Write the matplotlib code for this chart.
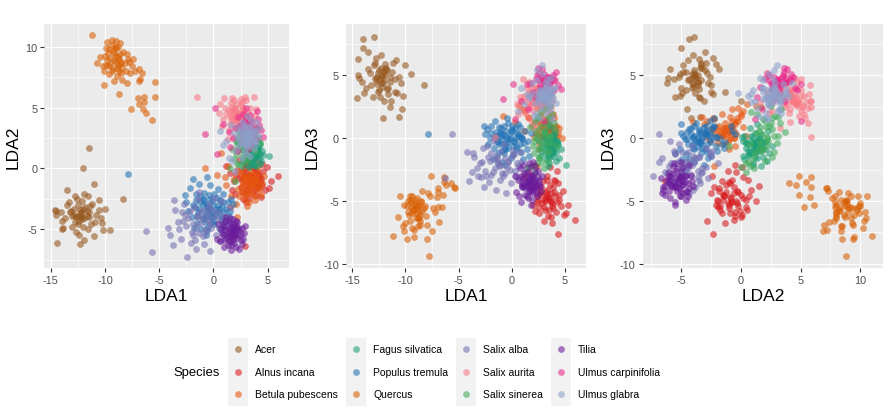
import numpy as np
import matplotlib
matplotlib.use("Agg")
import matplotlib.pyplot as plt
from matplotlib.patches import Rectangle

plt.rcParams['font.family'] = ['Liberation Sans', 'DejaVu Sans']
plt.rcParams['axes.unicode_minus'] = False

# ---- data: (LDA1, LDA2, LDA3) per species ----
acer = [(-14.0,-4.3,7.9),(-13.0,-3.9,8.1),(-14.0,-5.0,7.2),(-13.5,-3.0,6.9),(-14.5,-3.5,6.3),
        (-14.5,-3.8,5.0),(-14.6,-3.4,3.2),(-9.5,-5.1,5.1),(-8.3,-2.5,4.2),(-12.1,-4.2,1.6),
        (-10.6,-3.4,1.7),(-10.3,-4.5,2.3),(-11.5,1.7,2.5),(-12.0,0.0,3.0),(-13.5,-1.8,5.5),
        (-11.0,-1.3,3.7),(-14.4,-6.1,4.8),(-12.3,-6.2,4.4),(-12.5,-3.0,5.4),(-12.2,-3.6,5.0),
        (-11.8,-3.2,5.6),(-12.8,-4.4,4.6),(-11.5,-4.0,4.9),(-12.0,-4.8,5.3),(-13.2,-3.6,4.2),
        (-11.2,-2.9,6.0),(-12.6,-2.5,3.7),(-13.0,-4.8,5.8),(-11.6,-5.0,4.0),(-10.8,-3.8,3.6),
        (-12.4,-5.5,3.3),(-11.9,-2.1,5.9),(-10.4,-4.1,4.4),(-13.7,-4.1,4.0),(-12.9,-3.3,6.0),
        (-11.3,-4.6,5.3),(-12.7,-5.2,4.9),(-11.7,-3.5,3.9),(-10.2,-5.1,3.4),(-10.0,-3.3,5.8),
        (-13.3,-2.8,5.2),(-12.3,-4.0,6.6),(-11.0,-5.6,4.7),(-12.1,-2.7,4.4),(-13.9,-4.9,3.6),
        (-11.4,-3.1,3.0),(-12.5,-4.6,3.8),(-10.6,-2.6,4.9),(-11.9,-5.9,5.5),(-13.1,-3.5,3.3),
        (-10.9,-4.4,6.2),(-12.2,-3.9,4.1),(-11.6,-2.3,3.5),(-14.1,-3.6,4.5),(-12.8,-2.3,6.4),
        (-12.2,-3.7,4.9),(-11.9,-4.1,5.1),(-12.6,-3.9,5.2),(-12.0,-3.3,4.6),(-12.4,-4.3,4.7),
        (-11.7,-3.9,5.4),(-12.9,-3.8,4.8),(-12.3,-3.4,5.6),(-11.5,-3.6,4.5),(-12.7,-4.0,4.3)]

alnus_incana = [(6.0,-0.6,-6.5),(4.35,-2.35,-7.6),(5.1,-1.6,-6.0),(4.9,0.1,-6.1),(2.95,-6.35,-3.4),
        (1.5,-0.4,-2.7),(3.5,-0.8,-4.8),(3.2,-1.2,-4.3),(3.8,-0.3,-5.2),(2.8,-0.6,-3.9),
        (4.1,-1.4,-4.6),(3.0,0.4,-5.5),(3.6,-1.9,-5.0),(2.5,-1.5,-4.9),(4.4,-0.9,-3.6),
        (3.3,0.9,-4.1),(2.2,-0.1,-5.8),(3.9,-2.2,-3.9),(4.6,-0.2,-5.4),(2.7,-2.5,-4.4),
        (3.4,-0.5,-6.2),(4.0,0.6,-3.3),(1.9,-1.0,-3.5),(3.1,-1.7,-5.7),(4.3,-1.1,-2.6),
        (2.4,0.7,-4.6),(3.7,1.3,-5.0),(2.0,-2.1,-5.3),(4.8,-1.8,-4.2),(3.0,-2.8,-6.6),
        (1.2,0.2,-3.1),(3.6,0.1,-2.3),(2.6,-0.9,-6.0),(4.5,0.4,-4.9),(3.3,-2.4,-3.0),
        (2.3,1.5,-3.8),(4.2,-0.5,-5.9),(2.9,0.0,-4.5),(3.8,-1.3,-6.8),(1.7,-1.8,-4.0),
        (5.3,-1.0,-5.3),(2.1,-0.5,-2.1),
        (3.4,-0.9,-4.7),(3.7,-0.6,-4.4),(3.1,-0.4,-5.0),(3.9,-1.0,-5.6),(3.3,-1.5,-4.5),
        (2.9,-1.1,-5.2),(4.0,-0.2,-4.3),(3.6,-1.2,-3.7),(3.2,0.2,-4.8),(3.8,-1.7,-5.4),
        (2.7,-0.3,-4.2),(4.3,-0.7,-5.1),(3.5,0.5,-5.7),(3.0,-2.0,-4.9),(4.1,-1.6,-3.4),
        (2.6,-1.9,-5.5),(3.7,0.0,-6.3),(4.5,-1.4,-4.5),(3.3,-0.7,-3.3),(2.4,-0.8,-5.1)]

betula_pubescens = [(3.3,-1.1,0.6),(3.0,-0.7,0.9),(3.6,-1.5,0.2),(2.7,-1.3,1.2),(3.9,-0.9,0.5),
        (3.2,-2.0,0.0),(2.5,-0.4,0.3),(4.2,-1.8,1.0),(3.5,-0.2,1.4),(2.9,-2.5,0.7),
        (3.8,-2.6,-0.2),(2.3,-1.7,0.4),(4.5,-1.2,0.8),(3.1,-3.1,1.1),(2.1,-2.9,0.1),
        (3.4,0.4,0.2),(4.0,-0.3,1.6),(2.6,-1.9,-0.4),(3.7,-1.1,-0.3),(-0.8,0.0,1.8),
        (1.05,-0.7,2.3),(1.6,-2.3,1.6),(0.7,1.3,2.6),(1.3,0.2,2.2),(2.4,-2.25,-2.2),
        (4.4,-2.2,0.4),(2.8,0.0,1.9),(3.3,-2.8,1.4),(1.9,-0.9,1.0),(4.7,-0.6,0.0),
        (0.3,-0.5,1.3),(2.2,-4.0,1.3),(1.5,-3.2,1.7),(3.0,0.5,2.7),(2.6,-1.0,-0.9),
        (3.9,-1.6,1.9),(1.2,-1.4,0.6),(3.6,-0.5,-0.6),(4.1,0.2,0.9),(2.4,-0.2,2.4),
        (3.2,-1.0,0.5),(3.5,-1.3,0.8),(3.0,-1.5,0.3),(3.7,-0.8,0.9),(3.4,-1.8,0.6),
        (2.8,-0.9,0.1),(3.9,-1.3,0.3),(3.1,-0.5,1.1),(3.6,-2.1,0.9),(2.9,-1.9,0.2),
        (4.1,-1.0,-0.1),(3.3,-0.6,0.0),(3.8,-2.3,0.7),(2.6,-1.5,0.8),(3.5,-0.9,1.7),
        (4.3,-1.5,0.2),(3.0,-2.2,1.5),(3.4,-1.4,-0.5),(2.7,-0.7,1.4),(4.0,-0.6,0.6)]

fagus_silvatica = [(5.1,1.0,-2.1),(3.6,1.3,-0.7),(3.9,1.0,-0.4),(3.3,1.6,-1.0),(4.0,1.8,-0.9),
        (4.3,2.0,-0.2),(3.5,0.7,-1.3),(3.8,1.5,0.0),(3.1,1.1,-0.5),(4.2,0.8,-1.1),
        (3.4,2.1,-0.3),(3.7,0.4,-0.8),(4.5,1.4,-1.6),(3.0,0.9,0.2),(3.9,2.4,-1.2),
        (3.2,0.3,-1.7),(4.1,1.2,0.4),(3.6,1.9,-1.5),(2.8,1.4,-1.0),(4.4,0.6,-0.5),
        (3.5,1.0,-2.0),(3.8,2.6,-0.6),(3.3,0.1,0.1),(4.0,1.6,-0.1),(2.7,0.6,-1.4),
        (4.6,1.1,-0.9),(3.4,1.7,-2.2),(3.9,0.2,-1.4),(3.1,2.3,0.6),(4.2,2.2,-1.8),
        (3.7,0.8,0.8),(2.9,1.8,-0.7),(4.3,0.4,-0.3),(3.5,1.4,1.1),(3.8,1.1,-1.1),
        (2.6,0.2,-0.2),
        (3.6,1.2,-0.6),(3.8,1.4,-0.3),(3.4,1.0,-0.8),(3.9,1.3,-1.0),(3.5,1.6,-0.4),
        (3.7,0.9,-0.2),(4.1,1.5,-0.7),(3.3,1.3,-0.2),(3.6,0.6,-1.0),(4.0,1.0,0.1),
        (3.2,1.8,-0.6),(3.8,2.0,-0.9),(3.5,0.4,-0.4),(4.3,1.2,-0.5),(3.1,0.8,-1.2),
        (3.9,1.7,0.3),(3.4,1.2,-1.5),(3.7,0.3,0.2),(4.2,1.8,-0.3),(3.0,1.5,-0.1)]

populus_tremula = [(-7.85,-0.45,0.3),(-1.9,-0.85,1.0),(-0.55,-0.7,0.6),(-2.5,-2.8,0.3),(-0.6,-5.1,-0.9),
        (-1.0,-3.0,0.2),(-0.5,-3.4,-0.4),(0.0,-3.0,0.5),(0.5,-3.6,-0.7),(-1.4,-3.6,-0.2),
        (-0.2,-4.0,0.1),(0.9,-2.8,-1.1),(-1.2,-2.3,0.9),(-0.8,-4.4,-0.5),(0.3,-2.4,0.8),
        (1.2,-3.3,-0.4),(-1.7,-3.2,-0.8),(-0.3,-3.7,1.2),(0.7,-4.2,0.3),(-2.0,-4.0,0.0),
        (1.6,-2.5,-1.4),(-0.9,-2.0,-1.0),(0.1,-4.6,-1.3),(-1.5,-4.5,0.5),(0.4,-1.7,0.0),
        (-0.1,-2.7,-1.6),(1.0,-4.7,-0.1),(-2.3,-3.5,0.7),(-0.6,-3.1,-2.1),(0.8,-3.1,0.9),
        (-1.1,-5.0,0.4),(-0.4,-2.2,1.6),(1.4,-3.9,-0.9),(-2.6,-2.2,1.0),(0.2,-3.3,-0.2),
        (-1.3,-1.3,-0.3),(-0.7,-5.5,-1.2),(1.8,-2.9,0.4),(-1.8,-4.9,-1.7),(0.6,-5.0,1.1),
        (-0.3,-1.4,-0.8),(-1.6,-2.6,1.4),(0.9,-2.1,0.1),(-0.9,-3.9,-1.9),(0.0,-4.3,0.7),
        (-2.2,-1.6,-0.5),(1.1,-4.3,-1.7),(-1.0,-2.5,0.4),
        (-0.4,-3.2,0.0),(-0.8,-3.5,0.3),(0.2,-3.8,-0.3),(-1.2,-2.8,-0.5),(0.6,-2.6,0.2),
        (-0.1,-3.5,0.6),(-0.6,-4.0,-0.8),(0.4,-3.0,-0.9),(-1.5,-3.9,0.2),(1.0,-3.6,0.0),
        (-0.3,-2.5,-0.3),(-1.0,-4.2,0.8),(0.8,-4.0,-0.5),(-0.7,-2.9,1.0),(0.1,-2.1,-0.6),
        (-1.9,-3.0,0.4),(1.3,-2.8,0.6),(-0.2,-4.5,-0.1),(-1.3,-3.3,-1.2),(0.5,-3.3,0.4),
        (-0.9,-2.6,-0.1),(0.0,-3.9,1.0),(-1.6,-2.1,0.1),(1.5,-3.5,-0.2),(-0.5,-4.8,0.2)]

quercus = [(-11.2,11.0,-7.8),(-9.8,10.4,-5.9),(-9.4,10.6,-4.6),(-9.0,10.5,-6.4),(-8.8,10.0,-5.4),
        (-9.6,9.8,-4.6),(-10.0,9.3,-6.8),(-9.5,9.1,-5.5),(-9.1,8.8,-4.9),(-8.8,8.5,-7.0),
        (-8.4,8.3,-5.8),(-7.9,9.0,-4.4),(-7.4,9.0,-5.6),(-8.1,8.0,-6.2),(-7.7,7.9,-4.6),
        (-10.1,8.0,-5.3),(-9.6,7.8,-6.6),(-9.2,7.2,-7.3),(-8.9,7.6,-4.8),(-8.5,7.9,-5.1),
        (-8.0,7.0,-6.9),(-8.4,7.3,-4.2),(-7.2,8.0,-5.9),(-6.9,8.2,-4.3),(-6.8,7.4,-6.7),
        (-6.9,7.2,-4.0),(-10.5,9.2,-4.6),(-10.7,8.7,-6.3),(-10.1,6.9,-7.4),(-8.7,6.1,-5.3),
        (-5.35,7.1,-4.0),(-5.4,5.9,-3.9),(-7.0,5.8,-4.7),(-6.4,5.9,-3.1),(-6.9,5.3,-5.5),
        (-6.4,5.5,-3.5),(-7.6,4.9,-3.0),(-6.5,4.9,-4.5),(-6.2,4.6,-3.7),(-5.7,4.0,-3.6),
        (-9.9,8.5,-8.0),(-9.2,9.5,-7.9),(-8.0,9.4,-8.0),(-7.8,8.8,-9.4),(-9.0,9.9,-6.0),
        (-8.6,9.4,-6.9),(-9.3,8.2,-5.7),(-8.2,8.7,-5.4),(-9.8,8.9,-5.0),(-8.6,10.3,-6.6),
        (-7.5,8.4,-7.4),(-10.2,8.4,-7.0),(-9.4,10.2,-7.2),(-8.7,8.0,-6.4),(-6.6,7.9,-5.5),
        (-9.2,8.9,-5.3),(-9.0,9.3,-5.6),(-9.5,8.6,-5.1),(-8.7,9.0,-5.9),(-9.3,9.7,-5.7),
        (-8.9,8.3,-5.5),(-9.7,9.5,-6.1),(-8.5,8.8,-5.0),(-9.1,10.0,-5.2),(-9.4,8.0,-6.0),
        (-8.3,9.6,-5.6),(-9.9,9.9,-5.4),(-8.8,9.2,-6.4),(-9.6,8.4,-4.9),(-8.6,8.6,-6.1)]

salix_alba = [(-5.65,-6.85,0.3),(-6.25,-5.15,-3.2),(-2.4,-7.3,-3.0),(-4.0,-5.5,-3.4),(-3.55,-3.45,-1.5),
        (-3.6,-2.6,-1.2),(-2.9,-3.6,-3.1),(-2.55,-4.7,-2.6),(-1.5,-4.0,-4.1),(-2.0,-5.2,-1.8),
        (-1.2,-4.5,-2.2),(-0.6,-3.8,-1.6),(-0.2,-4.9,-2.5),(0.4,-4.2,-3.0),(-1.0,-5.6,-1.0),
        (-1.8,-3.2,-2.7),(0.9,-3.9,-1.9),(-0.4,-2.9,-2.3),(-2.3,-4.1,-0.6),(-1.4,-2.5,-1.4),
        (0.2,-5.5,-1.3),(-0.9,-6.2,-2.8),(-3.0,-5.8,-2.0),(-1.6,-6.6,-1.6),(1.3,-4.6,-2.6),
        (-0.1,-3.4,-3.6),(-2.7,-2.9,-0.8),(0.6,-6.0,-2.2),(-1.1,-3.5,-3.3),(-3.3,-4.4,-2.4),
        (-0.7,-5.2,-0.5),(1.0,-5.4,-3.8),(-2.1,-6.1,-3.5),(-0.3,-6.8,-1.9),(-1.9,-4.6,-2.9),
        (0.1,-2.4,-1.0),(-4.2,-4.9,-1.1),(-1.3,-1.9,-2.0),(1.5,-3.2,-2.4),(-0.5,-4.3,-4.4),
        (-3.7,-6.3,-2.7),(-2.6,-3.8,-3.9),(0.7,-2.7,-3.2),(-1.7,-5.9,-0.2),
        (-1.0,-4.1,-2.1),(-0.3,-4.6,-1.8),(-1.6,-4.9,-2.4),(0.3,-3.6,-2.6),(-2.2,-3.5,-1.5),
        (-0.8,-5.0,-3.0),(0.0,-4.0,-1.4),(-1.3,-5.3,-2.0),(-2.8,-4.3,-1.9),(0.5,-4.9,-2.0),
        (-0.6,-3.3,-2.8),(-1.9,-5.5,-1.2),(-3.2,-5.0,-3.0),(0.8,-4.4,-1.1),(-1.4,-3.8,-1.7)]

salix_aurita = [(-1.55,5.9,0.1),(2.2,4.4,3.2),(1.8,4.0,3.6),(2.6,4.8,2.9),(1.5,3.7,2.5),
        (2.9,4.2,3.8),(2.0,5.0,2.2),(1.2,4.5,3.4),(2.4,3.5,4.1),(3.2,4.6,2.7),
        (1.0,5.8,3.0),(1.7,5.8,4.2),(2.5,5.7,3.5),(3.0,5.6,2.4),(0.6,5.3,1.9),
        (1.4,3.2,4.0),(2.8,3.0,3.1),(3.6,4.0,2.0),(1.9,2.6,2.8),(2.3,4.1,1.3),
        (3.4,5.0,3.4),(0.9,4.1,2.3),(1.6,4.7,4.5),(2.7,2.2,3.7),(3.9,4.9,1.8),
        (1.3,2.4,2.0),(2.1,3.3,0.8),(3.1,3.7,4.4),(0.8,3.5,3.3),(2.5,5.2,2.6),
        (3.7,5.9,2.5),(1.1,5.0,4.7),(2.9,5.9,3.0),(2.0,4.7,3.9),(3.3,2.6,2.2),
        (1.6,5.4,1.6),(2.4,1.6,2.9),(3.5,3.3,3.6),(0.5,4.6,2.7),(2.8,4.5,4.8),
        (1.9,5.6,1.2),(3.8,4.4,3.0),
        (2.1,4.3,3.1),(2.4,4.6,3.3),(1.8,4.4,2.8),(2.6,4.2,3.5),(2.0,4.9,3.0),
        (2.3,3.9,2.7),(1.6,4.1,3.7),(2.8,4.7,2.6),(2.2,5.3,3.4),(1.9,3.7,3.2),
        (2.5,4.0,3.9),(1.4,4.8,2.9),(2.7,5.0,3.8),(3.0,4.3,3.0),(1.7,5.1,2.5),
        (2.3,4.5,4.0),(2.9,3.6,2.8),(2.0,4.0,3.5),(2.6,5.5,2.9),(1.5,4.3,3.3)]

salix_sinerea = [(2.9,1.8,0.3),(3.3,2.4,1.0),(2.5,2.9,1.8),(3.7,3.0,-0.4),(2.1,1.2,-1.2),
        (2.4,0.4,-2.0),(1.9,0.8,-2.2),(2.2,0.4,-2.7),(3.1,3.4,2.3),(2.7,1.5,-0.8),
        (4.1,2.6,0.7),(3.5,1.9,1.5),(2.3,2.2,0.0),(4.3,2.1,-0.6),(3.0,3.7,0.5),
        (2.0,-1.0,-0.6),(2.6,2.6,-1.5),(3.8,1.4,1.9),(3.2,2.8,-1.1),(1.7,1.6,0.9),
        (4.0,3.3,1.2),(2.8,0.9,2.1),(3.4,2.0,-1.8),(2.4,3.1,0.2),(3.6,2.5,2.6),
        (1.5,0.0,-2.3),(3.0,1.1,-2.4),(2.2,2.0,1.4),
        (2.8,1.6,-0.3),(3.1,1.3,0.4),(2.5,1.9,-0.9),(3.3,2.2,0.1),(2.6,1.0,-1.6),
        (3.0,2.5,1.2),(2.3,1.5,0.6),(3.5,1.7,-1.0),(2.7,2.1,0.9),(3.2,0.8,-0.5),
        (2.4,2.6,1.6),(3.6,2.8,0.2),(2.9,0.6,-1.9),(3.4,3.1,1.7),(2.1,2.3,-0.2)]

tilia = [(1.7,-5.3,-3.5),(1.4,-5.0,-3.1),(2.0,-5.6,-3.9),(1.2,-5.7,-2.8),(2.3,-4.9,-3.3),
        (1.6,-4.5,-4.2),(1.0,-4.8,-3.7),(2.5,-5.4,-2.6),(1.9,-6.1,-3.0),(1.3,-6.3,-4.5),
        (2.2,-4.4,-3.6),(0.8,-5.3,-2.4),(1.5,-5.9,-4.8),(2.7,-5.8,-3.8),(1.8,-4.2,-2.9),
        (0.6,-6.0,-3.3),(2.1,-6.5,-4.1),(1.1,-4.3,-2.1),(2.4,-5.1,-4.6),(1.6,-6.7,-3.2),
        (0.9,-5.5,-5.1),(2.9,-4.7,-3.0),(1.7,-4.8,-2.3),(1.3,-5.2,-4.0),(2.0,-5.0,-1.9),
        (0.4,-4.6,-4.3),(2.6,-6.2,-3.4),(1.4,-6.0,-2.7),(1.9,-4.6,-4.9),(1.0,-6.5,-3.9),
        (2.2,-5.7,-2.2),(1.5,-4.1,-3.4),(0.7,-5.0,-4.6),(2.4,-6.6,-4.4),(1.8,-5.5,-5.3),
        (1.2,-4.0,-3.8),(2.8,-5.3,-4.2),(0.3,-5.8,-3.0),(1.6,-5.6,-2.0),(2.1,-4.3,-4.0),
        (1.6,-5.2,-3.6),(1.9,-5.4,-3.2),(1.4,-5.5,-3.8),(2.0,-5.2,-3.0),(1.5,-4.9,-3.4),
        (1.8,-5.8,-3.7),(2.3,-5.5,-3.9),(1.1,-5.1,-3.2),(1.7,-6.0,-4.2),(2.2,-5.0,-2.7),
        (1.3,-5.6,-3.5),(1.9,-4.8,-4.4),(2.5,-5.9,-3.1),(1.0,-5.9,-3.6),(1.6,-6.3,-3.8),
        (2.1,-4.7,-3.5),(0.9,-4.6,-3.0),(2.6,-4.9,-3.7),(1.4,-4.4,-4.6),(1.8,-5.1,-4.1)]

ulmus_carpinifolia = [(0.17,5.0,4.3),(-0.8,2.8,3.1),(0.3,1.2,1.5),(4.1,4.1,4.6),(3.0,3.0,4.4),
        (2.6,2.2,5.2),(3.3,3.5,4.9),(2.8,2.6,3.9),(3.6,3.8,4.5),(2.3,4.2,4.7),
        (3.9,2.4,5.0),(3.2,1.6,4.1),(2.9,3.9,5.5),(4.4,3.2,4.2),(2.0,3.3,3.7),
        (3.5,2.0,4.8),(1.8,2.5,4.4),(4.0,4.7,3.8),(2.5,3.6,5.6),(3.7,2.9,3.6),
        (1.5,1.8,2.3),(4.2,3.6,5.3),(2.7,4.5,4.0),(3.1,2.3,4.6),(1.4,3.0,4.3),
        (3.4,4.4,4.9),(2.2,1.4,3.3),(4.6,2.6,3.9),(0.9,3.7,3.0),(3.0,5.0,1.4),
        (3.0,3.2,4.5),(3.3,3.0,4.7),(2.7,3.4,4.3),(3.5,3.3,4.1),(2.9,2.8,4.9),
        (3.2,3.7,4.4),(2.6,3.0,4.6),(3.8,3.4,4.8),(3.1,2.6,4.2),(2.4,3.5,5.0),
        (3.4,4.0,4.5),(3.6,2.7,4.4),(2.8,3.8,4.8),(3.9,3.1,4.6),(3.0,4.2,5.1)]

ulmus_glabra = [(2.9,3.0,5.8),(3.0,2.6,3.4),(3.3,2.9,3.0),(2.7,2.2,3.8),(3.5,2.4,2.6),
        (2.5,3.2,3.1),(3.1,1.8,4.0),(3.8,2.9,3.7),(2.2,2.5,2.8),(3.4,3.5,4.3),
        (2.8,1.4,2.4),(3.9,2.0,3.2),(0.6,3.1,2.2),(1.4,0.9,3.5),(2.0,-0.2,3.6),
        (1.7,0.6,3.4),(2.6,3.8,3.6),(3.2,2.1,2.0),(4.1,2.7,4.1),(2.4,1.9,4.6),
        (3.6,3.2,2.3),(1.9,2.9,4.4),(3.0,1.2,3.0),(3.7,1.6,4.8),(2.3,3.4,2.0),
        (3.5,4.0,3.4),(1.2,2.3,2.7),(2.9,2.4,5.1),(4.2,3.3,2.8),(2.1,1.5,1.8),
        (3.3,2.7,4.7),(2.6,0.9,2.9),(3.9,3.8,3.9),(1.6,3.6,3.2),(3.1,4.3,4.4),
        (2.7,2.0,1.6),(0.9,1.9,4.0),(3.4,1.0,3.8),(2.4,2.8,5.4),(3.8,2.3,1.5),
        (3.0,2.6,3.3),(3.2,2.4,3.5),(2.8,2.8,3.2),(3.4,2.7,3.7),(2.9,2.2,3.1),
        (3.1,3.1,3.6),(3.5,2.2,3.3),(2.7,2.5,3.8),(3.3,3.3,3.0),(2.6,2.9,3.5),
        (3.6,2.8,3.9),(3.0,1.9,3.7),(2.8,3.4,3.4),(3.7,2.5,2.9),(2.5,2.3,3.3),
        (3.2,2.9,4.0),(3.4,1.9,3.1),(2.9,3.6,3.5),(3.1,2.3,2.8),(3.8,3.1,3.4)]

species_names = ["Acer", "Alnus incana", "Betula pubescens", "Fagus silvatica",
                 "Populus tremula", "Quercus", "Salix alba", "Salix aurita",
                 "Salix sinerea", "Tilia", "Ulmus carpinifolia", "Ulmus glabra"]
species_data = [acer, alnus_incana, betula_pubescens, fagus_silvatica, populus_tremula,
                quercus, salix_alba, salix_aurita, salix_sinerea, tilia,
                ulmus_carpinifolia, ulmus_glabra]
species_colors = ["#95561C", "#D7191C", "#E6550D", "#1B9E77", "#2171B5", "#D95F02",
                  "#7570B3", "#F97884", "#41AB5D", "#6A1B9A", "#E7298A", "#8DA0CB"]

ALPHA = 0.58
PT_SIZE = 24

W, H = 891, 414
fig = plt.figure(figsize=(W / 100, H / 100), dpi=100)

def frac(x0, x1, ytop, ybot):
    return [x0 / W, 1 - ybot / H, (x1 - x0) / W, (ybot - ytop) / H]

panels = [
    (frac(44.3, 289.3, 25, 269), 0, 1, "LDA1", "LDA2", (-15.6, 7.0), (-8.2, 11.9),
     [-15, -10, -5, 0, 5], [-5, 0, 5, 10]),
    (frac(346, 586, 25, 269), 0, 2, "LDA1", "LDA3", (-15.6, 7.0), (-10.35, 9.1),
     [-15, -10, -5, 0, 5], [-10, -5, 0, 5]),
    (frac(642.7, 883, 25, 269), 1, 2, "LDA2", "LDA3", (-8.2, 11.9), (-10.35, 9.1),
     [-5, 0, 5, 10], [-10, -5, 0, 5]),
]

for rect, ix, iy, xl, yl, xlim, ylim, xt, yt in panels:
    ax = fig.add_axes(rect)
    ax.set_facecolor("#EBEBEB")
    for sp in ax.spines.values():
        sp.set_visible(False)
    for pts, col in zip(species_data, species_colors):
        arr = np.array(pts)
        ax.scatter(arr[:, ix], arr[:, iy], s=PT_SIZE, color=col, alpha=ALPHA,
                   linewidths=0, zorder=3)
    ax.set_xticks(xt)
    ax.set_yticks(yt)
    xm = [v + 2.5 for v in xt[:-1]] + [xt[0] - 2.5, xt[-1] + 2.5]
    ym = [v + 2.5 for v in yt[:-1]] + [yt[0] - 2.5, yt[-1] + 2.5]
    ax.set_xticks([v for v in xm if xlim[0] < v < xlim[1]], minor=True)
    ax.set_yticks([v for v in ym if ylim[0] < v < ylim[1]], minor=True)
    ax.set_xlim(*xlim)
    ax.set_ylim(*ylim)
    ax.grid(which="major", color="white", linewidth=0.85)
    ax.grid(which="minor", color="white", linewidth=0.45)
    ax.set_axisbelow(True)
    ax.tick_params(which="major", length=3, width=0.8, color="#333333",
                   labelsize=7.8, labelcolor="#4D4D4D", pad=2)
    ax.tick_params(which="minor", length=0)
    ax.set_xlabel(xl, fontsize=12.5, labelpad=2)
    ax.set_ylabel(yl, fontsize=12.5, labelpad=3)

# ---- legend (drawn in pixel coordinates) ----
lg = fig.add_axes([0, 0, 1, 1], facecolor="none")
lg.set_xlim(0, W)
lg.set_ylim(H, 0)
lg.axis("off")
lg.text(173, 373, "Species", fontsize=9.4, ha="left", va="center", color="black")
col_left = [227.7, 345.7, 455.7, 550.7]
key_w, key_h, top = 20.7, 22.8, 338.5
for c in range(4):
    lg.add_patch(Rectangle((col_left[c], top), key_w, key_h * 3,
                           facecolor="#F2F2F2", edgecolor="none"))
    for r in range(3):
        i = c * 3 + r
        yc = top + key_h * (r + 0.5)
        lg.scatter([col_left[c] + key_w / 2], [yc], s=PT_SIZE, color=species_colors[i],
                   alpha=ALPHA, linewidths=0)
        lg.text(col_left[c] + 27.5, yc, species_names[i], fontsize=7.5,
                ha="left", va="center", color="black")

fig.savefig("out.png", dpi=100)
